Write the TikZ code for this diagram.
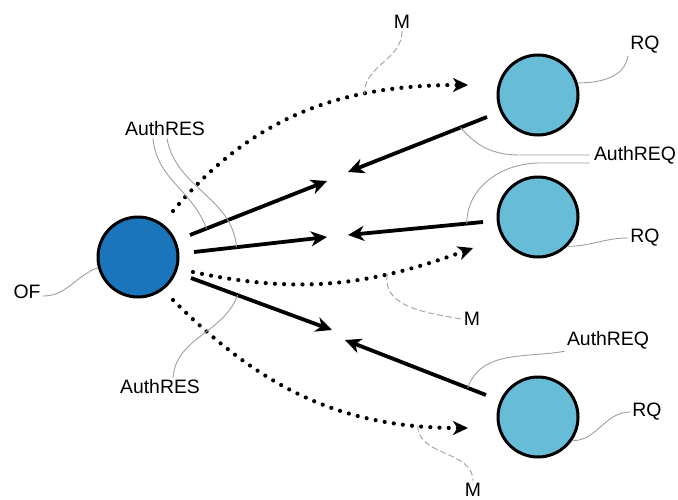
\documentclass[tikz,border=0pt]{standalone}
\usepackage{fontspec}
\setmainfont{Liberation Sans}
\usetikzlibrary{arrows.meta}

\definecolor{ofblue}{RGB}{27,117,187}
\definecolor{rqblue}{RGB}{103,188,216}

\begin{document}
\begin{tikzpicture}[x=0.5pt,y=0.5pt,
  ofnode/.style={circle,draw=black,line width=1.5pt,fill=ofblue,minimum size=40pt,inner sep=0pt},
  rqnode/.style={circle,draw=black,line width=1.5pt,fill=rqblue,minimum size=40pt,inner sep=0pt},
  lbl/.style={font=\fontsize{9.7}{11}\selectfont,inner sep=1pt},
  solidarr/.style={line width=1.9pt,-{Stealth[length=8pt,width=7.5pt,inset=2.4pt]}},
  dotarr/.style={line width=2.1pt,line cap=round,dash pattern=on 0pt off 4.6pt,-{Stealth[length=7.5pt,width=7pt,inset=2.2pt]}},
  lead/.style={draw=gray!75,line width=0.45pt},
  leaddash/.style={lead,dash pattern=on 3pt off 1.5pt}]
\useasboundingbox (0,0) rectangle (678,499);

% nodes
\node[ofnode] (of) at (138,242) {};
\node[rqnode] (rq1) at (538,404) {};
\node[rqnode] (rq2) at (538,282) {};
\node[rqnode] (rq3) at (538,82) {};

% labels
\node[lbl] (mtop) at (402,477) {M};
\node[lbl] (rqa) at (645,454) {RQ};
\node[lbl,inner sep=2pt] (reqm) at (635,344) {AuthREQ};
\node[lbl] (rqb) at (645,261) {RQ};
\node[lbl] (mmid) at (472,180) {M};
\node[lbl] (reql) at (608,159) {AuthREQ};
\node[lbl] (rqc) at (647,87) {RQ};
\node[lbl] (mbot) at (473,9) {M};
\node[lbl] (rest) at (165,370) {AuthRES};
\node[lbl] (ofl) at (27,207) {OF};
\node[lbl] (resb) at (160,112) {AuthRES};

% free ends of the arrows
\coordinate (a1s) at (190,264); \coordinate (a1e) at (327,318);
\coordinate (a2s) at (194,247); \coordinate (a2e) at (327,262);
\coordinate (a3s) at (191,221); \coordinate (a3e) at (332,169);
\coordinate (b1s) at (487,382); \coordinate (b1e) at (348,327);
\coordinate (b2s) at (483,277); \coordinate (b2e) at (348,264);
\coordinate (b3s) at (486,104); \coordinate (b3e) at (345,159);
\coordinate (d1s) at (173,288); \coordinate (d1e) at (468,414);
\coordinate (d2s) at (193,227); \coordinate (d2e) at (473,251);
\coordinate (d3s) at (173,199); \coordinate (d3e) at (468,71);

% AuthRES
\draw[solidarr] (a1s) -- (a1e) coordinate[pos=0.12] (a1p);
\draw[solidarr] (a2s) -- (a2e) coordinate[pos=0.32] (a2p);
\draw[solidarr] (a3s) -- (a3e) coordinate[pos=0.33] (a3p);
% AuthREQ
\draw[solidarr] (b1s) -- (b1e) coordinate[pos=0.19] (b1p);
\draw[solidarr] (b2s) -- (b2e) coordinate[pos=0.12] (b2p);
\draw[solidarr] (b3s) -- (b3e) coordinate[pos=0.13] (b3p);
% M
\draw[dotarr] (d1s) to[out=50,in=180] coordinate[pos=0.7] (d1p) (d1e);
\draw[dotarr] (d2s) to[out=-12,in=200] coordinate[pos=0.7] (d2p) (d2e);
\draw[dotarr] (d3s) to[out=-45,in=180] coordinate[pos=0.86] (d3p) (d3e);

% leader lines
\draw[leaddash] (mtop.south) to[out=-90,in=90] (d1p);
\draw[lead] (rq1.17) to[out=0,in=-100] (rqa.south west);
\draw[lead] (reqm.west) -- ++(-70,0) to[out=180,in=-50] (b1p);
\draw[lead] ([yshift=-4pt]reqm.west) -- ++(-50,0) to[out=180,in=90] (b2p);
\draw[lead] (rq2.-45) to[out=0,in=180] (rqb.west);
\draw[leaddash] (d2p) to[out=-100,in=170] (mmid.west);
\draw[lead] (reql.south west) to[out=190,in=70] (b3p);
\draw[lead] (rq3.-35) to[out=0,in=180] (rqc.west);
\draw[leaddash] (d3p) to[out=-90,in=90] (mbot.north);
\draw[lead] ([xshift=-6pt]rest.south) to[out=-85,in=110] (a1p);
\draw[lead] ([xshift=1pt]rest.south) to[out=-80,in=95] (a2p);
\draw[lead] ([xshift=6.5pt]resb.north) to[out=85,in=-110] (a3p);
\draw[lead] ([yshift=-2pt]ofl.east) to[out=0,in=200] (of.195);
\end{tikzpicture}
\end{document}
